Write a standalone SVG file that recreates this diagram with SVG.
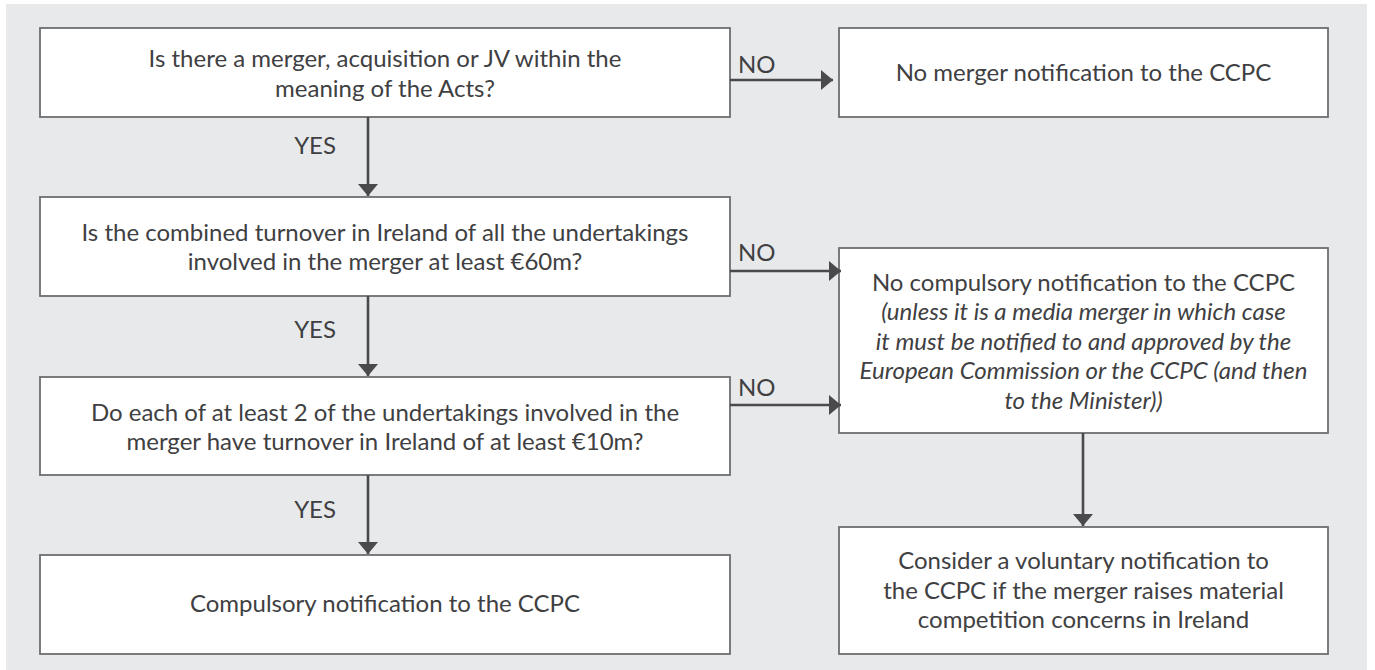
<svg xmlns="http://www.w3.org/2000/svg" width="1375" height="670" viewBox="0 0 1375 670">
<defs>
<style>
.bg{fill:#e8e9eb}
.box{fill:#ffffff;stroke:#6d6e71;stroke-width:1.8}
.t{font-family:Lato,"Open Sans","Liberation Sans",sans-serif;font-size:24px;fill:#404042;text-anchor:middle}
.i{font-style:italic}
.lbl{font-family:Lato,"Open Sans","Liberation Sans",sans-serif;font-size:24px;fill:#404042}
.c{stroke:#4a4a4c;stroke-width:2.6;fill:none}
</style>
<marker id="ah" viewBox="0 0 12 20" refX="12" refY="10" markerWidth="12" markerHeight="20" markerUnits="userSpaceOnUse" orient="auto">
<path d="M0,0 L12,10 L0,20 Z" fill="#4a4a4c"/>
</marker>
</defs>
<rect class="bg" x="6" y="4" width="1361" height="666"/>
<g id="q1">
<rect class="box" x="40" y="28" width="690" height="89"/>
<text class="t" x="385" y="67">Is there a merger, acquisition or JV within the</text>
<text class="t" x="385" y="96.5">meaning of the Acts?</text>
</g>
<g id="r1">
<rect class="box" x="839" y="28" width="489" height="89"/>
<text class="t" x="1083.5" y="81">No merger notification to the CCPC</text>
</g>
<g id="q2">
<rect class="box" x="40" y="197" width="690" height="99"/>
<text class="t" x="385" y="241">Is the combined turnover in Ireland of all the undertakings</text>
<text class="t" x="385" y="270">involved in the merger at least €60m?</text>
</g>
<g id="q3">
<rect class="box" x="40" y="377" width="690" height="98"/>
<text class="t" x="385" y="421">Do each of at least 2 of the undertakings involved in the</text>
<text class="t" x="385" y="450">merger have turnover in Ireland of at least €10m?</text>
</g>
<g id="r2">
<rect class="box" x="839" y="248" width="489" height="185"/>
<text class="t" x="1083.5" y="291">No compulsory notification to the CCPC</text>
<text class="t i" x="1083.5" y="320">(unless it is a media merger in which case</text>
<text class="t i" x="1083.5" y="349.5">it must be notified to and approved by the</text>
<text class="t i" x="1083.5" y="379">European Commission or the CCPC (and then</text>
<text class="t i" x="1083.5" y="408.5">to the Minister))</text>
</g>
<g id="q4">
<rect class="box" x="40" y="555" width="690" height="99"/>
<text class="t" x="385" y="612">Compulsory notification to the CCPC</text>
</g>
<g id="r3">
<rect class="box" x="839" y="527" width="489" height="127"/>
<text class="t" x="1083.5" y="569">Consider a voluntary notification to</text>
<text class="t" x="1083.5" y="598.5">the CCPC if the merger raises material</text>
<text class="t" x="1083.5" y="628">competition concerns in Ireland</text>
</g>
<g id="connectors">
<line class="c" x1="368" y1="117" x2="368" y2="196" marker-end="url(#ah)"/>
<line class="c" x1="368" y1="296" x2="368" y2="376" marker-end="url(#ah)"/>
<line class="c" x1="368" y1="475" x2="368" y2="554" marker-end="url(#ah)"/>
<line class="c" x1="730" y1="80" x2="833" y2="80" marker-end="url(#ah)"/>
<line class="c" x1="730" y1="271" x2="841" y2="271" marker-end="url(#ah)"/>
<line class="c" x1="730" y1="405" x2="841" y2="405" marker-end="url(#ah)"/>
<line class="c" x1="1083" y1="433" x2="1083" y2="526" marker-end="url(#ah)"/>
<text class="lbl" x="336" y="154" text-anchor="end">YES</text>
<text class="lbl" x="336" y="338" text-anchor="end">YES</text>
<text class="lbl" x="336" y="518" text-anchor="end">YES</text>
<text class="lbl" x="738" y="73">NO</text>
<text class="lbl" x="738" y="261">NO</text>
<text class="lbl" x="738" y="396">NO</text>
</g>
</svg>
